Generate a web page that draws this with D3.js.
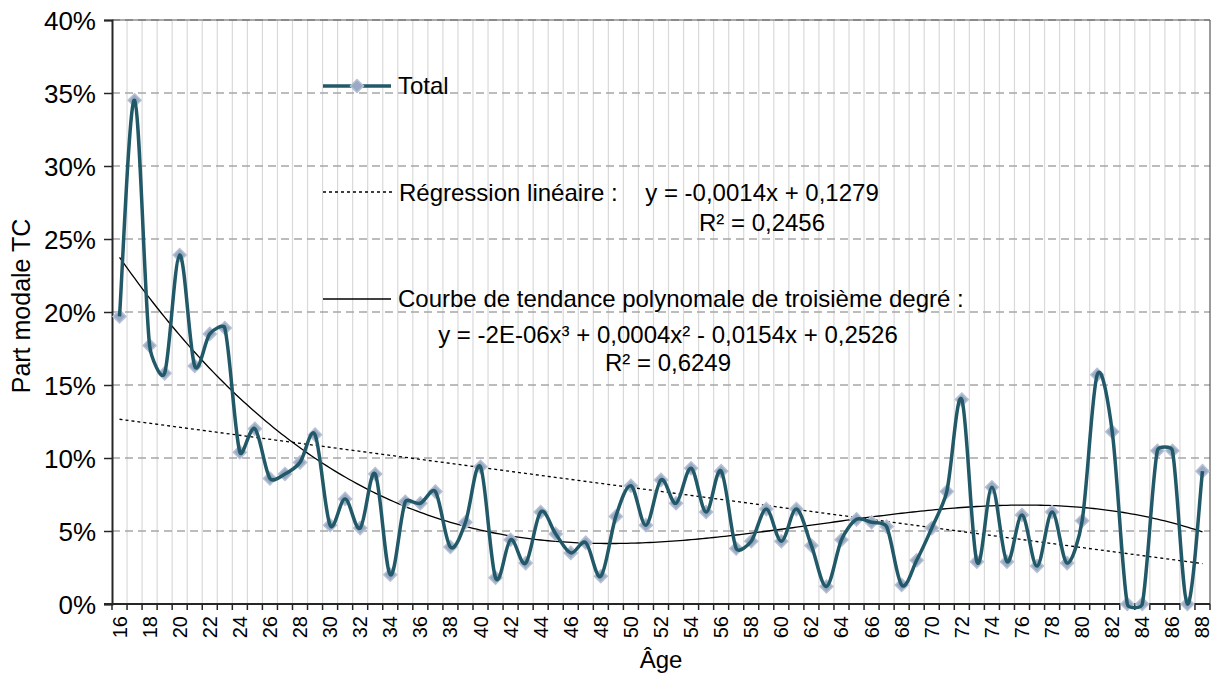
<!DOCTYPE html>
<html>
<head>
<meta charset="utf-8">
<script src="https://cdn.jsdelivr.net/npm/d3@7/dist/d3.min.js"></script>
<style>
  html, body { margin: 0; padding: 0; background: #ffffff; }
  svg { display: block; font-family: "Liberation Sans", Arial, sans-serif; }
</style>
</head>
<body>
<svg id="chart" width="1219" height="673"></svg>
<script>
// ---- Data ----
const ages = d3.range(16, 89); // 16..88
const totalValues = [
  0.197, 0.345, 0.177, 0.158, 0.239, 0.163, 0.185, 0.189, 0.104, 0.120,
  0.086, 0.089, 0.097, 0.116, 0.054, 0.072, 0.052, 0.089, 0.020, 0.070,
  0.069, 0.077, 0.039, 0.056, 0.094, 0.018, 0.044, 0.028, 0.063, 0.048,
  0.035, 0.042, 0.019, 0.060, 0.081, 0.054, 0.085, 0.069, 0.093, 0.063,
  0.091, 0.038, 0.043, 0.065, 0.043, 0.065, 0.040, 0.012, 0.044, 0.058,
  0.056, 0.053, 0.013, 0.030, 0.052, 0.077, 0.140, 0.029, 0.080, 0.029,
  0.061, 0.026, 0.063, 0.028, 0.057, 0.157, 0.118, 0.000, 0.000, 0.105,
  0.105, 0.000, 0.091
];
const yTicks = [0, 0.05, 0.10, 0.15, 0.20, 0.25, 0.30, 0.35, 0.40];
const xTickLabels = ages.filter(a => a % 2 === 0);
const legendTotal = "Total";
const legendLinear = "Régression linéaire :";
const eqLinear = "y = -0,0014x + 0,1279";
const r2Linear = "R² = 0,2456";
const legendPoly = "Courbe de tendance polynomale de troisième degré :";
const eqPoly = "y = -2E-06x³ + 0,0004x² - 0,0154x + 0,2526";
const r2Poly = "R² = 0,6249";

// ---- Layout ----
const svg = d3.select("#chart");
const L = 112, R = 1210, T = 20, B = 604;
const x = d3.scaleBand().domain(ages).range([L, R]).padding(0);
const bw = x.bandwidth();
const cx = a => x(a) + bw / 2;
const y = d3.scaleLinear().domain([0, 0.4]).range([B, T]);
const xIdx = d3.scaleLinear().domain([1, ages.length]).range([cx(ages[0]), cx(ages[ages.length - 1])]);

// ---- Least squares fits (on x = 1..n like Excel) ----
function polyFit(xs, ys, deg) {
  const m = 37, s = 36;
  const ts = xs.map(v => (v - m) / s);
  const n = deg + 1;
  const A = Array.from({length: n}, () => new Array(n + 1).fill(0));
  ts.forEach((t, k) => {
    for (let i = 0; i < n; i++) {
      for (let j = 0; j < n; j++) A[i][j] += Math.pow(t, i + j);
      A[i][n] += Math.pow(t, i) * ys[k];
    }
  });
  for (let c = 0; c < n; c++) {
    let p = c;
    for (let r = c + 1; r < n; r++) if (Math.abs(A[r][c]) > Math.abs(A[p][c])) p = r;
    [A[c], A[p]] = [A[p], A[c]];
    for (let r = 0; r < n; r++) {
      if (r === c) continue;
      const f = A[r][c] / A[c][c];
      for (let k = c; k <= n; k++) A[r][k] -= f * A[c][k];
    }
  }
  const coef = A.map((row, i) => row[n] / row[i]);
  return v => { const t = (v - m) / s; let r = 0; for (let i = n - 1; i >= 0; i--) r = r * t + coef[i]; return r; };
}
const idx = ages.map((a, i) => i + 1);
const linFn = polyFit(idx, totalValues, 1);
const polyFn = polyFit(idx, totalValues, 3);

// ---- Excel-like smoothed line (Bezier, control length limited by segment length) ----
function smoothPath(P) {
  const dist = (a, b) => Math.hypot(b[0] - a[0], b[1] - a[1]);
  const path = d3.path();
  path.moveTo(P[0][0], P[0][1]);
  for (let i = 0; i < P.length - 1; i++) {
    const p0 = P[Math.max(0, i - 1)], p1 = P[i], p2 = P[i + 1], p3 = P[Math.min(P.length - 1, i + 2)];
    const d12 = dist(p1, p2), d02 = dist(p0, p2), d13 = dist(p1, p3);
    const lim = d12 / 3;
    const f1 = d02 > 0 ? Math.min(1 / 6, lim / d02) : 0;
    const f2 = d13 > 0 ? Math.min(1 / 6, lim / d13) : 0;
    const c1 = [p1[0] + (p2[0] - p0[0]) * f1, p1[1] + (p2[1] - p0[1]) * f1];
    const c2 = [p2[0] - (p3[0] - p1[0]) * f2, p2[1] - (p3[1] - p1[1]) * f2];
    path.bezierCurveTo(c1[0], c1[1], c2[0], c2[1], p2[0], p2[1]);
  }
  return path.toString();
}

// ---- Grid ----
const grid = svg.append("g");
grid.selectAll("line.v").data(ages.slice(1)).join("line")
  .attr("x1", d => x(d)).attr("x2", d => x(d))
  .attr("y1", T).attr("y2", B)
  .attr("stroke", "#d9d9d9").attr("stroke-width", 1.2);
grid.selectAll("line.h").data(yTicks.filter(v => v > 0)).join("line")
  .attr("x1", L).attr("x2", R)
  .attr("y1", d => y(d)).attr("y2", d => y(d))
  .attr("stroke", "#a6a6a6").attr("stroke-width", 1.5)
  .attr("stroke-dasharray", "8,5");

svg.append("line").attr("x1", L).attr("x2", R).attr("y1", T).attr("y2", T)
  .attr("stroke", "#595959").attr("stroke-width", 1.2);
svg.append("line").attr("x1", R).attr("x2", R).attr("y1", T).attr("y2", B)
  .attr("stroke", "#595959").attr("stroke-width", 1.2);

// ---- Axes ----
const yAxis = d3.axisLeft(y).tickValues(yTicks).tickSize(8).tickPadding(8)
  .tickFormat(d => Math.round(d * 100) + "%");
const gy = svg.append("g").attr("transform", `translate(${L},0)`).call(yAxis);
gy.select(".domain").attr("stroke", "#262626").attr("stroke-width", 2);
gy.selectAll(".tick line").attr("stroke", "#262626").attr("stroke-width", 1.5);
gy.selectAll(".tick text").attr("font-size", 26).attr("fill", "#000")
  .attr("font-family", "Liberation Sans, Arial, sans-serif").attr("dy", "0.35em");

const gx = svg.append("g");
gx.append("line").attr("x1", L - 8).attr("x2", R).attr("y1", B).attr("y2", B)
  .attr("stroke", "#262626").attr("stroke-width", 2);
gx.selectAll("line.t").data(ages.concat([null])).join("line")
  .attr("x1", (d, i) => L + i * bw).attr("x2", (d, i) => L + i * bw)
  .attr("y1", B).attr("y2", B + 6)
  .attr("stroke", "#262626").attr("stroke-width", 1.5);
gx.selectAll("text").data(xTickLabels).join("text")
  .attr("transform", d => `translate(${cx(d) + 7},${B + 12}) rotate(-90)`)
  .attr("text-anchor", "end")
  .attr("font-size", 20).attr("fill", "#000")
  .text(d => d);

svg.append("text").attr("transform", `translate(30,306) rotate(-90)`)
  .attr("text-anchor", "middle").attr("font-size", 25).attr("fill", "#000")
  .text("Part modale TC");
svg.append("text").attr("x", 661).attr("y", 668)
  .attr("text-anchor", "middle").attr("font-size", 24).attr("fill", "#000")
  .text("Âge");

// ---- Trend lines ----
const samples = d3.range(1, ages.length + 0.001, 0.25);
svg.append("path")
  .attr("d", d3.line().x(v => xIdx(v)).y(v => y(linFn(v)))([1, ages.length]))
  .attr("fill", "none").attr("stroke", "#000").attr("stroke-width", 1.3)
  .attr("stroke-dasharray", "3,3");
svg.append("path")
  .attr("d", d3.line().x(v => xIdx(v)).y(v => y(polyFn(v)))(samples))
  .attr("fill", "none").attr("stroke", "#000").attr("stroke-width", 1.3);

// ---- Series ----
const pts = ages.map((a, i) => [cx(a), y(totalValues[i])]);
const diamond = (s) => `M0,${-s}L${s},0L0,${s}L${-s},0Z`;
svg.append("g").selectAll("path").data(pts).join("path")
  .attr("transform", d => `translate(${d[0]},${d[1]})`)
  .attr("d", diamond(6.5))
  .attr("fill", "#9aa9c4").attr("stroke", "#b6c1d4").attr("stroke-width", 1.5);
svg.append("path")
  .attr("d", smoothPath(pts))
  .attr("fill", "none").attr("stroke", "#215968").attr("stroke-width", 3.5)
  .attr("stroke-linejoin", "round");

// ---- Legend ----
const lg = svg.append("g").attr("font-size", 24).attr("fill", "#000");
lg.append("line").attr("x1", 323).attr("x2", 391).attr("y1", 86).attr("y2", 86)
  .attr("stroke", "#215968").attr("stroke-width", 3.5);
lg.append("path").attr("transform", "translate(357,86)").attr("d", diamond(6.5))
  .attr("fill", "#9aa9c4").attr("stroke", "#b6c1d4").attr("stroke-width", 1.5);
lg.append("text").attr("x", 398).attr("y", 94).text(legendTotal);

lg.append("line").attr("x1", 323).attr("x2", 393).attr("y1", 192).attr("y2", 192)
  .attr("stroke", "#000").attr("stroke-width", 1.3).attr("stroke-dasharray", "3,3");
lg.append("text").attr("x", 399).attr("y", 201).text(legendLinear);
lg.append("text").attr("x", 762).attr("y", 201).attr("text-anchor", "middle").text(eqLinear);
lg.append("text").attr("x", 762).attr("y", 231).attr("text-anchor", "middle").text(r2Linear);

lg.append("line").attr("x1", 323).attr("x2", 391).attr("y1", 299).attr("y2", 299)
  .attr("stroke", "#000").attr("stroke-width", 1.3);
lg.append("text").attr("x", 398).attr("y", 307).text(legendPoly);
lg.append("text").attr("x", 668).attr("y", 343).attr("text-anchor", "middle").text(eqPoly);
lg.append("text").attr("x", 668).attr("y", 371).attr("text-anchor", "middle").text(r2Poly);
</script>
</body>
</html>
